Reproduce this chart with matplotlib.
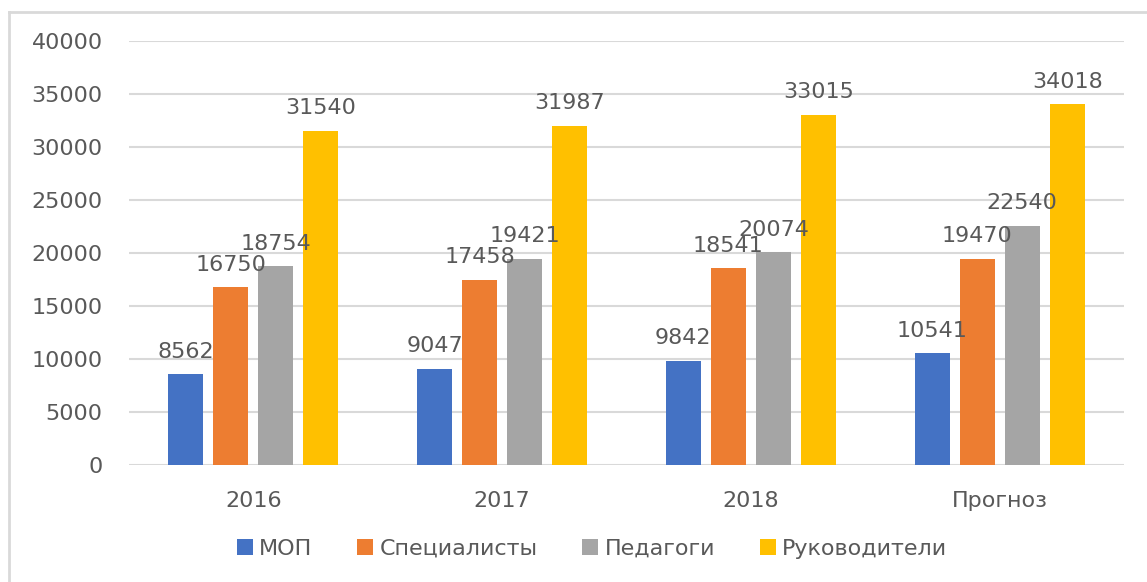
import matplotlib
matplotlib.use("Agg")
import matplotlib.pyplot as plt
import numpy as np
from matplotlib.lines import Line2D

categories = ["2016", "2017", "2018", "Прогноз"]
series_names = ["МОП", "Специалисты", "Педагоги", "Руководители"]
mop = [8562, 9047, 9842, 10541]
spec = [16750, 17458, 18541, 19470]
ped = [18754, 19421, 20074, 22540]
ruk = [31540, 31987, 33015, 34018]
colors = ["#4472C4", "#ED7D31", "#A5A5A5", "#FFC000"]
yticks = [0, 5000, 10000, 15000, 20000, 25000, 30000, 35000, 40000]

plt.rcParams['font.family'] = ['DejaVu Sans']
text_color = "#595959"
FS = 16

fig = plt.figure(figsize=(11.47, 5.82), dpi=100)
ax = fig.add_axes([129/1147, 1-465/582, (1124-129)/1147, (465-41)/582])

x = np.arange(len(categories))
width = 0.141
step = 0.181
all_series = [mop, spec, ped, ruk]
for i, (vals, name, c) in enumerate(zip(all_series, series_names, colors)):
    pos = x + (i - 1.5) * step
    ax.bar(pos, vals, width=width, color=c, label=name, zorder=3)
    for p, v in zip(pos, vals):
        ax.annotate(str(v), (p, v), xytext=(0, 12), textcoords="offset points",
                    ha="center", va="baseline", fontsize=FS, color=text_color, zorder=4)

ax.set_xlim(-0.5, len(categories) - 0.5)
ax.set_ylim(0, 40000)
ax.set_yticks(yticks)
ax.set_yticklabels([str(t) for t in yticks])
ax.set_xticks(x)
ax.set_xticklabels(categories)
ax.grid(axis="y", color="#D9D9D9", linewidth=1.5, zorder=0)
for s in ax.spines.values():
    s.set_visible(False)
ax.tick_params(axis="both", length=0, labelsize=FS, labelcolor=text_color)
ax.tick_params(axis="y", pad=19)
ax.tick_params(axis="x", pad=19)

leg = fig.legend(loc="center", bbox_to_anchor=(592/1147, 1-549/582), ncol=4, frameon=False,
                 fontsize=FS, handlelength=0.72, handleheight=0.72, columnspacing=2.0,
                 handletextpad=0.3, labelcolor=text_color)

fig.add_artist(Line2D([9/1147, 9/1147], [0, 1-12/582], transform=fig.transFigure,
                      color="#D9D9D9", linewidth=2))
fig.add_artist(Line2D([9/1147, 1], [1-12/582, 1-12/582], transform=fig.transFigure,
                      color="#D9D9D9", linewidth=2))

fig.savefig("out.png", dpi=100)
